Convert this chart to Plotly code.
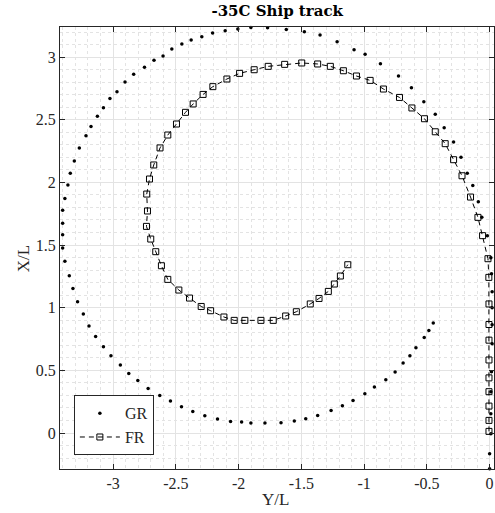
import plotly.graph_objects as go

# GR track (Y/L, X/L)
gr_y = [0.0, 0.0, 0.01, 0.01, 0.01, 0.015, 0.02, 0.02, 0.02, 0.02, 0.015, 0.01,
        -0.018, -0.062, -0.090, -0.134, -0.178, -0.228, -0.287, -0.362, -0.433, -0.524,
        -0.623, -0.726, -0.870, -0.992, -1.080, -1.215, -1.351, -1.476, -1.620, -1.769,
        -1.902, -2.006, -2.107, -2.207, -2.293, -2.378, -2.452, -2.532, -2.602, -2.674,
        -2.750, -2.836, -2.905, -2.969, -3.025, -3.077, -3.125, -3.176, -3.216, -3.269,
        -3.309, -3.341, -3.360, -3.384, -3.402, -3.402, -3.402, -3.402, -3.384, -3.349,
        -3.320, -3.283, -3.237, -3.192, -3.139, -3.077, -3.017, -2.942, -2.875, -2.803,
        -2.721, -2.628, -2.543, -2.455, -2.365, -2.269, -2.168, -2.064, -1.976, -1.902,
        -1.790, -1.662, -1.556, -1.465, -1.370, -1.263, -1.173, -1.088, -0.994, -0.918,
        -0.827, -0.753, -0.689, -0.635, -0.587, -0.521, -0.484, -0.449]
gr_x = [-0.285, -0.165, -0.005, 0.154, 0.330, 0.489, 0.713, 0.864, 1.000, 1.128, 1.272, 1.399,
        1.575, 1.721, 1.846, 1.976, 2.072, 2.200, 2.322, 2.437, 2.543, 2.644,
        2.756, 2.849, 2.947, 3.022, 3.059, 3.123, 3.176, 3.203, 3.221, 3.235,
        3.237, 3.224, 3.211, 3.192, 3.163, 3.136, 3.105, 3.065, 3.009, 2.974,
        2.918, 2.862, 2.801, 2.724, 2.670, 2.596, 2.527, 2.447, 2.373, 2.275,
        2.171, 2.072, 1.979, 1.872, 1.777, 1.673, 1.583, 1.476, 1.370, 1.255,
        1.154, 1.048, 0.950, 0.854, 0.771, 0.689, 0.617, 0.543, 0.476, 0.420,
        0.356, 0.300, 0.255, 0.210, 0.172, 0.138, 0.112, 0.093, 0.088, 0.080,
        0.080, 0.082, 0.096, 0.114, 0.140, 0.180, 0.218, 0.260, 0.314, 0.367,
        0.425, 0.487, 0.559, 0.617, 0.681, 0.763, 0.819, 0.878]

# FR track (Y/L, X/L)
fr_y = [-0.005, -0.005, -0.005, -0.005, -0.005, -0.005, -0.005, -0.005, -0.005, -0.006, -0.013,
        -0.056, -0.093, -0.152, -0.220, -0.287, -0.354, -0.433, -0.519, -0.619, -0.718,
        -0.846, -0.952, -1.061, -1.165, -1.269, -1.370, -1.497, -1.633, -1.764, -1.876,
        -1.992, -2.093, -2.205, -2.283, -2.362, -2.423, -2.495, -2.564, -2.626, -2.676,
        -2.710, -2.732, -2.726, -2.734, -2.700, -2.660, -2.615, -2.564, -2.476, -2.391,
        -2.298, -2.223, -2.117, -2.035, -1.950, -1.822, -1.724, -1.625, -1.540, -1.429,
        -1.359, -1.285, -1.237, -1.189, -1.130]
fr_x = [0.013, 0.101, 0.215, 0.330, 0.440, 0.583, 0.741, 0.866, 1.030, 1.242, 1.391,
        1.575, 1.721, 1.883, 2.053, 2.181, 2.309, 2.404, 2.508, 2.594, 2.678,
        2.745, 2.814, 2.849, 2.891, 2.926, 2.945, 2.953, 2.942, 2.926, 2.899,
        2.870, 2.825, 2.764, 2.702, 2.626, 2.559, 2.466, 2.378, 2.275, 2.139,
        2.027, 1.907, 1.772, 1.649, 1.548, 1.447, 1.335, 1.226, 1.141, 1.077,
        1.010, 0.976, 0.926, 0.899, 0.899, 0.899, 0.899, 0.934, 0.968, 1.030,
        1.074, 1.130, 1.189, 1.253, 1.343]

x_ticks = [-3, -2.5, -2, -1.5, -1, -0.5, 0]
y_ticks = [0, 0.5, 1, 1.5, 2, 2.5, 3]

serif = "Liberation Serif"

fig = go.Figure()
fig.add_trace(go.Scatter(
    x=gr_y, y=gr_x, mode="markers", name="GR", cliponaxis=False,
    marker=dict(size=3.5, color="black")))
fig.add_trace(go.Scatter(
    x=fr_y, y=fr_x, mode="lines+markers", name="FR", cliponaxis=False,
    line=dict(color="black", width=1, dash="5px,4px"),
    marker=dict(symbol="square-open", size=6, color="black", line=dict(width=1))))

axis_common = dict(
    automargin=False,
    showline=True, linecolor="#262626", linewidth=1, mirror="ticks",
    ticks="inside", ticklen=5, tickcolor="#262626",
    showgrid=True, gridcolor="#e3e3e3", gridwidth=1, zeroline=False,
    tickfont=dict(family=serif, size=16, color="#262626"),
    minor=dict(dtick=0.1, showgrid=True, gridcolor="#e3e3e3", griddash="dot", ticks=""),
)

fig.update_layout(
    width=495, height=513,
    margin=dict(l=60, r=1, t=27, b=44, autoexpand=False),
    paper_bgcolor="white", plot_bgcolor="white",
    title=dict(text="<b>-35C Ship track</b>", x=0.56, xanchor="center",
               y=1 - 11 / 513, yanchor="middle",
               font=dict(family="DejaVu Serif", size=15, color="black")),
    xaxis=dict(range=[-3.423, 0.035], tickvals=x_ticks, ticktext=[str(v) for v in x_ticks],
               **axis_common),
    yaxis=dict(range=[-0.287, 3.24], tickvals=y_ticks, ticktext=[str(v) for v in y_ticks],
               **axis_common),
    legend=dict(x=0.032, y=0.031, xanchor="left", yanchor="bottom",
                bgcolor="white", bordercolor="#262626", borderwidth=1,
                font=dict(family=serif, size=16, color="#262626"),
                itemwidth=40, tracegroupgap=0),
    showlegend=True,
)

fig.add_annotation(text="Y/L", xref="paper", yref="paper", x=0.497, y=-0.07,
                   yanchor="middle", showarrow=False,
                   font=dict(family=serif, size=17, color="#262626"))
fig.add_annotation(text="X/L", xref="paper", yref="paper", x=-0.085, y=0.475,
                   xanchor="center", yanchor="middle", showarrow=False, textangle=-90,
                   font=dict(family=serif, size=17, color="#262626"))

# page margin off so the figure sits at the window corner
fig.write_html("out.html", config={"displayModeBar": False},
               post_script="document.body.style.margin='0';")
